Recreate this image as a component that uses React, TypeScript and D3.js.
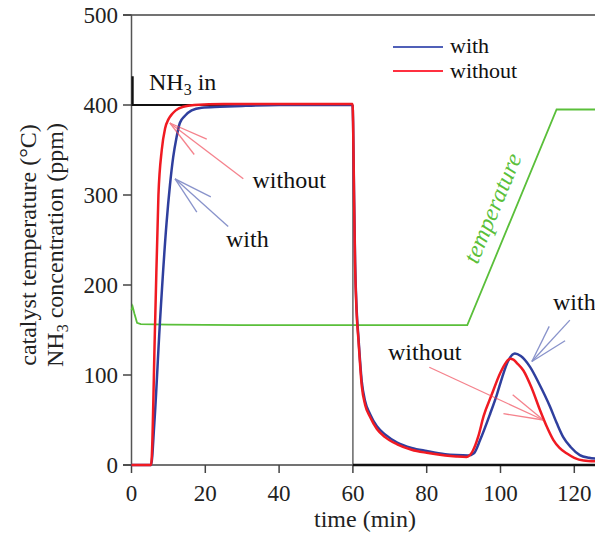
import React from "react";
import * as d3 from "d3";

const xTicks = [0, 20, 40, 60, 80, 100, 120];
const yTicks = [0, 100, 200, 300, 400, 500];

const withTime = [0, 5.3, 6.2, 7.7, 9.5, 10.4, 11.3, 12.2, 13.1, 14.5, 16.3, 19, 24, 30, 40, 59.9,
  60.05, 60.3, 60.6, 61, 61.5, 62.4, 63.3, 64.6, 66.5, 68.7, 72, 75.9, 80, 85, 88, 91.2,
  92.8, 94.5, 97.2, 99, 100.5, 102, 103.9, 105.5, 108, 110.5, 113.4, 115.3, 117, 119, 121.5, 124, 126];
const withValue = [0, 0, 47, 158, 269, 310, 342, 364, 380, 388, 394, 397, 398, 399, 400, 400,
  382, 305, 225, 174, 142, 93, 71, 57, 43, 34, 25, 19, 15.5, 12, 11, 10.5,
  13, 28, 57, 78, 98, 115, 124, 121, 109, 90, 65, 46, 31, 20, 11, 8, 7];

const withoutTime = [0, 5.3, 6.4, 7.3, 8.2, 9.1, 10, 11, 12, 14, 17, 25, 40, 59.9,
  60.05, 60.3, 60.6, 61, 61.5, 62.4, 63.3, 64.6, 66.5, 68.7, 72, 75.9, 80, 85, 88, 90.8,
  92.4, 94, 95.4, 97.6, 99.9, 101.5, 102.6, 103.5, 104.5, 106.2, 108.5, 110.7, 112.5, 114.3, 116, 117.9, 120, 122.5, 126];
const withoutValue = [0, 0, 158, 300, 350, 374, 384, 390, 394, 398, 400, 401, 401, 401,
  380, 300, 220, 170, 139, 88, 67, 54, 40, 31, 23, 17, 13.5, 10.5, 9.5, 9,
  15, 32, 54, 78, 102, 114, 118, 117, 113, 105, 85, 61, 43, 28, 19, 13, 8, 5, 4];

const tempTime = [0, 0.3, 0.8, 1.5, 2.5, 10, 30, 60, 91, 115.2, 126];
const tempValue = [172, 176, 168, 158, 156.5, 156, 155.5, 155.5, 155.5, 395, 395];

const nh3InTime = [0.3, 0.3, 60, 60, 126];
const nh3InValue = [432, 400, 400, 0, 0];

// annotation arrows: [tip, tail, head1, head2] in data units (time, ppm)
const arrowWithoutUpper = [[10.4, 380], [30.3, 318], [20.4, 362], [17.0, 345]];
const arrowWithUpper = [[11.8, 318], [26.2, 265], [21.5, 298], [17.7, 281]];
const arrowWithLower = [[108.5, 115], [118.8, 161], [113.2, 154], [117.5, 138]];
const arrowWithoutLower = [[111.6, 50], [80.7, 108.6], [103.3, 78], [100.8, 57]];

const W = 595, H = 535;
const FONT = "'Liberation Serif', 'Times New Roman', serif";
const BLUE = "#2f3f9e";
const RED = "#f01a22";
const GREEN = "#5abf3a";

export default function App() {
  const x = d3.scaleLinear().domain([0, 120]).range([131.5, 574.3]);
  const y = d3.scaleLinear().domain([0, 500]).range([465, 15]);

  const mk = (ts: number[], vs: number[], curve: any) =>
    d3.line<number>()
      .x((d, i) => x(ts[i]))
      .y((d) => y(d))
      .curve(curve)(vs) as string;

  const withPath = mk(withTime, withValue, d3.curveMonotoneX);
  const withoutPath = mk(withoutTime, withoutValue, d3.curveMonotoneX);
  const tempPath = mk(tempTime, tempValue, d3.curveLinear);

  const seg = (a: number, b: number) =>
    d3.line<number>().x((d, i) => x(nh3InTime[a + i])).y((d) => y(d))(nh3InValue.slice(a, b + 1)) as string;

  const arrow = (pts: number[][], color: string, key: string) => {
    const [tip, tail, h1, h2] = pts;
    return (
      <g key={key} stroke={color} strokeWidth={1.3} opacity={0.65} fill="none">
        <line x1={x(tip[0])} y1={y(tip[1])} x2={x(tail[0])} y2={y(tail[1])} />
        <line x1={x(tip[0])} y1={y(tip[1])} x2={x(h1[0])} y2={y(h1[1])} />
        <line x1={x(tip[0])} y1={y(tip[1])} x2={x(h2[0])} y2={y(h2[1])} />
      </g>
    );
  };

  const rampAngle = (Math.atan2(y(tempValue[8]) - y(tempValue[9]), x(tempTime[9]) - x(tempTime[8])) * 180) / Math.PI;

  return (
    <svg width={W} height={H} style={{ position: "absolute", left: 0, top: 0, background: "#fff" }}
      fontFamily={FONT}>
      <rect x={0} y={0} width={W} height={H} fill="#fff" />
      {/* frame */}
      <line x1={123} x2={W} y1={y(500)} y2={y(500)} stroke="#444" strokeWidth={1.5} />
      <line x1={x(0)} x2={x(0)} y1={y(500)} y2={y(0)} stroke="#555" strokeWidth={1.5} />
      <line x1={123} x2={W} y1={y(0)} y2={y(0)} stroke="#444" strokeWidth={1.5} />
      {yTicks.map((t) => (
        <g key={"y" + t}>
          <line x1={123} x2={x(0)} y1={y(t)} y2={y(t)} stroke="#444" strokeWidth={1.5} />
          <text x={118} y={y(t)} dy="0.35em" textAnchor="end" fontSize={23} fill="#222">{t}</text>
        </g>
      ))}
      {xTicks.map((t) => (
        <g key={"x" + t}>
          <line x1={x(t)} x2={x(t)} y1={y(0)} y2={y(0) + 8} stroke="#444" strokeWidth={1.5} />
          <text x={x(t)} y={501} textAnchor="middle" fontSize={23} fill="#222">{t}</text>
        </g>
      ))}
      <text x={365} y={527} textAnchor="middle" fontSize={24} fill="#222">time (min)</text>
      <text transform="translate(36,245) rotate(-90)" textAnchor="middle" fontSize={24} fill="#222">
        catalyst temperature (°C)
      </text>
      <text transform="translate(63,245) rotate(-90)" textAnchor="middle" fontSize={24} fill="#222">
        NH<tspan fontSize={16} dy={5}>3</tspan><tspan dy={-5}> concentration (ppm)</tspan>
      </text>

      {/* temperature */}
      <path d={tempPath} fill="none" stroke={GREEN} strokeWidth={1.8} />
      {/* NH3 in */}
      <path d={seg(0, 2)} fill="none" stroke="#111" strokeWidth={2.2} />
      <path d={seg(2, 3)} fill="none" stroke="#666" strokeWidth={1.5} />
      <path d={seg(3, 4)} fill="none" stroke="#111" strokeWidth={2.5} />

      {/* series */}
      <path d={withPath} fill="none" stroke={BLUE} strokeWidth={2.5} />
      <path d={withoutPath} fill="none" stroke={RED} strokeWidth={2.5} />

      {/* annotations */}
      {arrow(arrowWithoutUpper, "#f04050", "a1")}
      {arrow(arrowWithUpper, "#4a5ab0", "a2")}
      {arrow(arrowWithLower, "#4a5ab0", "a3")}
      {arrow(arrowWithoutLower, "#f04050", "a4")}

      <text x={149} y={90} fontSize={24} fill="#111">
        NH<tspan fontSize={16} dy={5}>3</tspan><tspan dy={-5}> in</tspan>
      </text>
      <text x={252.5} y={188} fontSize={24} fill="#111">without</text>
      <text x={226} y={246.5} fontSize={24} fill="#111">with</text>
      <text x={553} y={310} fontSize={24} fill="#111">with</text>
      <text x={388} y={360} fontSize={24} fill="#111">without</text>

      <text transform={`translate(492,208) rotate(${-rampAngle})`} textAnchor="middle" dy="0.35em"
        fontSize={24} fontStyle="italic" fill={GREEN}>temperature</text>

      {/* legend */}
      <line x1={393} x2={443} y1={47} y2={47} stroke="#5060b8" strokeWidth={2} />
      <text x={450} y={53} fontSize={22} fill="#111">with</text>
      <line x1={393} x2={443} y1={71} y2={71} stroke="#ff3040" strokeWidth={2} />
      <text x={450} y={78} fontSize={22} fill="#111">without</text>
    </svg>
  );
}
